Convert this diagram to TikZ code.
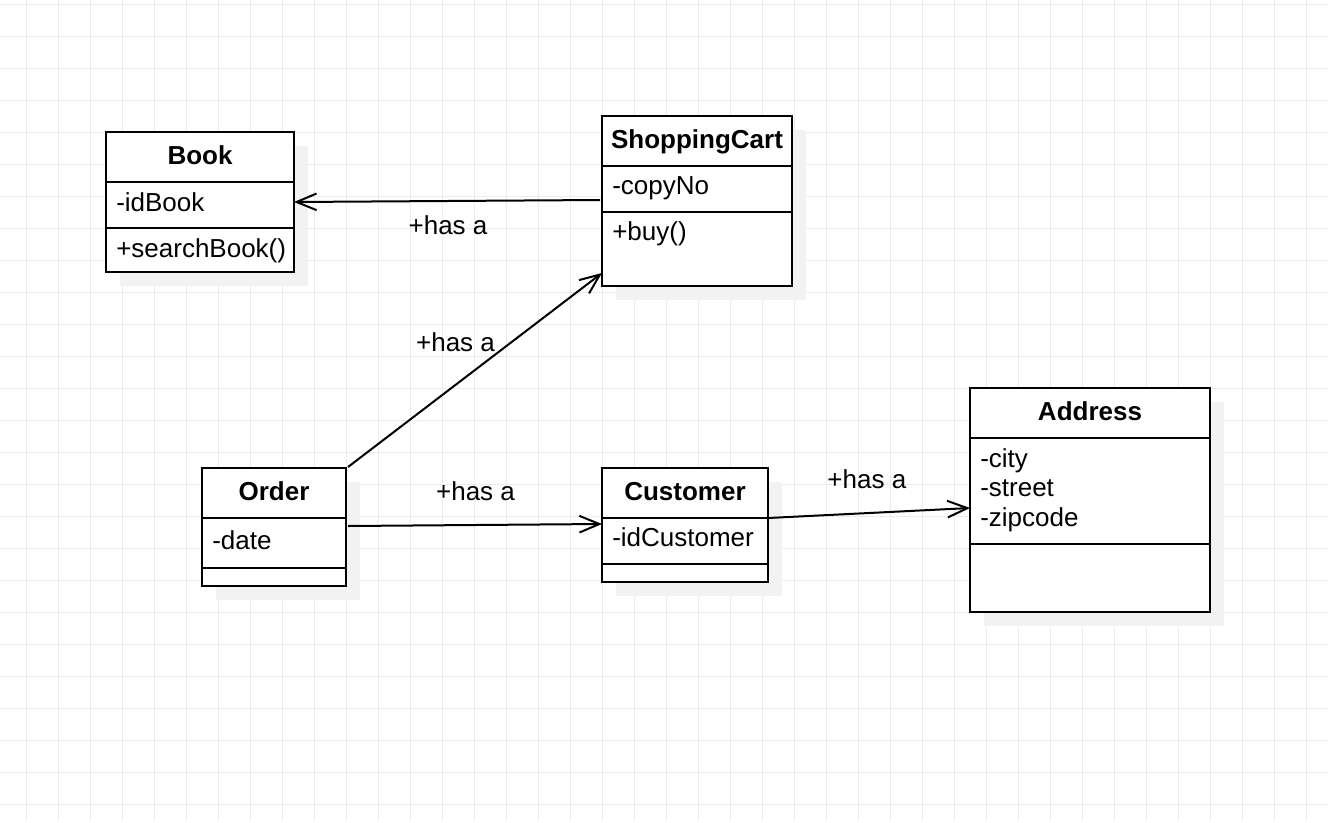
\documentclass[tikz,border=0pt]{standalone}
\usepackage{fontspec}
\setmainfont{Liberation Sans}
\usetikzlibrary{positioning, arrows.meta, calc, shadows}

\begin{document}
\begin{tikzpicture}[
		x=0.75pt, y=0.75pt,
		font=\fontsize{19.5}{22.3}\selectfont,
		% background grid
		gridline/.style={draw=black!8, line width=0.75pt},
		% class compartments (fixed size, stacked without gaps)
		classshadow/.style={drop shadow={shadow xshift=10.5pt, shadow yshift=-10.5pt, fill=black!5, opacity=1}},
		classhead/.style={
				rectangle, draw=black, line width=1.5pt, fill=white, classshadow,
				outer sep=0pt, inner sep=0pt, minimum width=#1, minimum height=37.5pt,
				font=\fontsize{19.5}{22.3}\selectfont\bfseries, text height=13.8pt, text depth=2.4pt
			},
		classpart/.style 2 args={
				rectangle, draw=black, line width=1.5pt, fill=white, classshadow,
				outer sep=0pt, inner sep=0pt, minimum width=#1, minimum height=#2
			},
		% attributes and operations (base = baseline of the last line)
		member/.style={anchor=base west, inner sep=0pt, align=left},
		% associations
		assoc/.style={-{Straight Barb[length=15pt, width=12.5pt]}, line width=1.5pt},
		hasa/.style={inner sep=0pt, text height=13.5pt, text depth=0pt}
	]

	\useasboundingbox (0,0) rectangle (1328,-822);

	% ==========================================
	% 1. GRID
	% ==========================================
	\foreach \x in {26,58,...,1322} \draw[gridline] (\x,0) -- (\x,-822);
	\foreach \y in {4,36,...,804} \draw[gridline] (0,-\y) -- (1328,-\y);

	% ==========================================
	% 2. CLASSES
	% ==========================================

	% Book
	\node[classhead=141pt, anchor=north west] (book) at (106,-132) {Book};
	\node[classpart={141pt}{34.5pt}, below=0pt of book] (bookattr) {};
	\node[classpart={141pt}{33pt}, below=0pt of bookattr] (bookops) {};
	\node[member] (bookattrtxt) at ($(bookattr.north west)+(10,-29)$) {-idBook};
	\node[member] (bookopstxt) at ($(bookops.north west)+(10,-29)$) {+searchBook()};

	% ShoppingCart
	\node[classhead=142.5pt, anchor=north west] (cart) at (602,-116) {ShoppingCart};
	\node[classpart={142.5pt}{34.5pt}, below=0pt of cart] (cartattr) {};
	\node[classpart={142.5pt}{55.5pt}, below=0pt of cartattr] (cartops) {};
	\node[member] (cartattrtxt) at ($(cartattr.north west)+(10,-28.5)$) {-copyNo};
	\node[member] (cartopstxt) at ($(cartops.north west)+(10,-28.5)$) {+buy()};

	% Order
	\node[classhead=108pt, anchor=north west] (order) at (202,-468) {Order};
	\node[classpart={108pt}{37.5pt}, below=0pt of order] (orderattr) {};
	\node[classpart={108pt}{13.5pt}, below=0pt of orderattr] (orderops) {};
	\node[member] (orderattrtxt) at ($(orderattr.north west)+(10,-31)$) {-date};

	% Customer
	\node[classhead=124.5pt, anchor=north west] (customer) at (602,-468) {Customer};
	\node[classpart={124.5pt}{34.5pt}, below=0pt of customer] (customerattr) {};
	\node[classpart={124.5pt}{13.5pt}, below=0pt of customerattr] (customerops) {};
	\node[member] (customerattrtxt) at ($(customerattr.north west)+(10,-28.7)$) {-idCustomer};

	% Address (three lines, anchored at the last baseline)
	\node[classhead=180pt, anchor=north west] (address) at (970,-388) {Address};
	\node[classpart={180pt}{79.5pt}, below=0pt of address] (addressattr) {};
	\node[classpart={180pt}{51pt}, below=0pt of addressattr] (addressops) {};
	\node[member] (addressattrtxt) at ($(addressattr.north west)+(10,-88.7)$) {-city\\-street\\-zipcode};

	% ==========================================
	% 3. ASSOCIATIONS
	% ==========================================
	\draw[assoc] ($(cartattr.west)+(-2,-11)$) -- node[hasa, midway, xshift=0.75pt, yshift=-18.5pt] (hasa1) {+has a} ($(bookattr.east)+(0,3)$);
	\draw[assoc] ($(order.north east)+(2,1)$) -- node[hasa, midway, xshift=-14.6pt, yshift=20.3pt] (hasa2) {+has a} ($(cartops.south west)+(0,13)$);
	\draw[assoc] ($(orderattr.north east)+(2,-8)$) -- node[hasa, midway, xshift=0.4pt, yshift=25.2pt] (hasa3) {+has a} ($(customerattr.north west)+(0,-6)$);
	\draw[assoc] (customerattr.north east) -- node[hasa, midway, xshift=-1.6pt, yshift=25.5pt] (hasa4) {+has a} ($(addressattr.west)+(0,-17)$);

\end{tikzpicture}
\end{document}
